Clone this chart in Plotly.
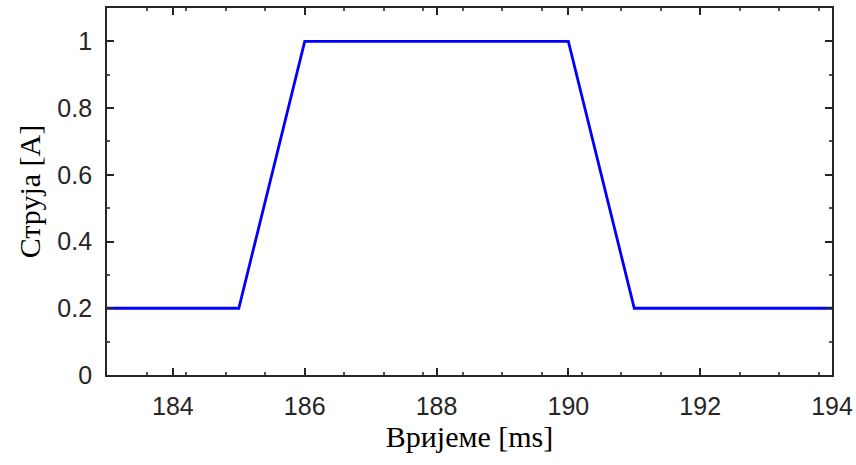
import plotly.graph_objects as go

time_ms = [183, 185, 186, 190, 191, 194]
current_a = [0.2, 0.2, 1.0, 1.0, 0.2, 0.2]
x_ticks = [184, 186, 188, 190, 192, 194]
y_ticks = [0, 0.2, 0.4, 0.6, 0.8, 1]

fig = go.Figure()
fig.add_trace(go.Scatter(x=time_ms, y=current_a, mode="lines",
                         line=dict(color="#0000ff", width=2.8), showlegend=False))

axis_common = dict(
    showline=True, linecolor="#262626", linewidth=1.8, mirror="ticks",
    ticks="inside", ticklen=7, tickwidth=1.6, tickcolor="#262626",
    showgrid=False, zeroline=False, automargin=False,
    tickfont=dict(family="Liberation Sans, Arial", size=25, color="#262626"),
    ticklabelstandoff=8,
)

title_font = dict(family="Liberation Serif, DejaVu Serif", size=30, color="#000000")

fig.update_xaxes(range=[183, 194], tickvals=x_ticks,
                 ticktext=[str(v) for v in x_ticks],
                 minor=dict(ticks="inside", ticklen=3, tickcolor="#555555", tick0=183, dtick=0.6),
                 title=dict(text="Вријеме [ms]", standoff=6, font=title_font),
                 **axis_common)
fig.update_yaxes(range=[0, 1.1], tickvals=y_ticks,
                 ticktext=["0", "0.2", "0.4", "0.6", "0.8", "1"],
                 minor=dict(ticks="inside", ticklen=3, tickcolor="#555555", dtick=0.1),
                 title=dict(text="Струја [A]", standoff=8, font=title_font),
                 **axis_common)

fig.update_layout(width=856, height=465, margin=dict(l=107, r=24, t=8, b=90),
                  plot_bgcolor="white", paper_bgcolor="white")
fig.write_html("out.html")
